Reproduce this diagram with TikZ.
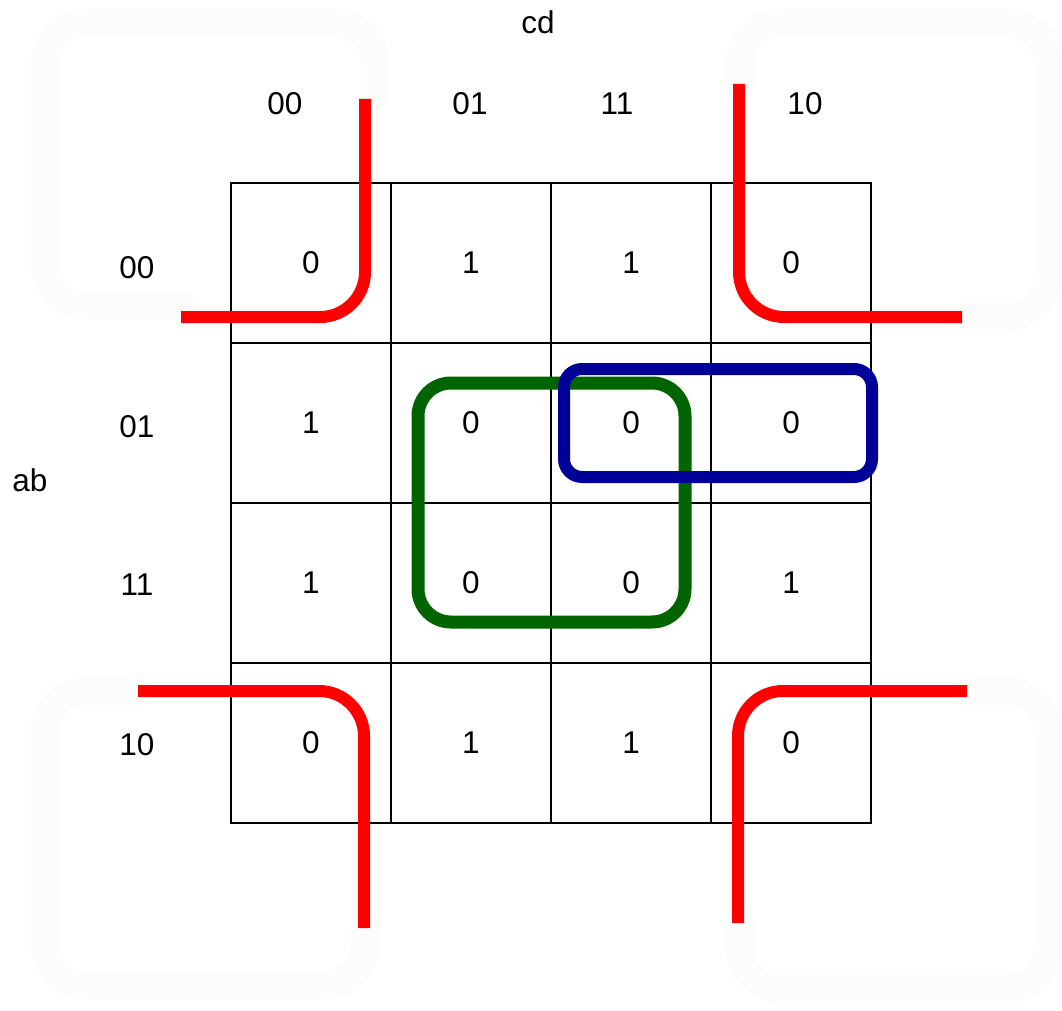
\documentclass[tikz,border=0pt]{standalone}
\usepackage{fontspec}
\setmainfont{Liberation Sans}
\begin{document}
\begin{tikzpicture}[x=1pt,y=-1pt,
  lbl/.style={font=\fontsize{31.5}{36}\selectfont, inner sep=0pt},
  cell/.style={draw=black, line width=2pt, minimum size=160pt, inner sep=0pt, font=\fontsize{31.5}{36}\selectfont},
  redloop/.style={draw={rgb,255:red,255;green,0;blue,0}, line width=12pt, rounded corners=45pt},
  faint/.style={draw=black!1, line width=28pt, rounded corners=40pt, line cap=round},
  greenbox/.style={draw={rgb,255:red,0;green,100;blue,0}, line width=13pt, rounded corners=33pt},
  bluebox/.style={draw={rgb,255:red,0;green,0;blue,153}, line width=12pt, rounded corners=18pt}
]
\useasboundingbox[fill=white] (0,0) rectangle (1062,1011);

% faint erased strokes
\draw[faint] (375,95) -- (375,23) -- (45,23) -- (45,305) -- (180,305);
\draw[faint] (740,83) -- (740,23) -- (1048,23) -- (1048,317) -- (962,317);
\draw[faint] (138,691) -- (45,691) -- (45,985) -- (365,985) -- (365,928);
\draw[faint] (967,691) -- (1048,691) -- (1048,988) -- (740,988) -- (740,923);

% labels
\node[lbl] (cd) at (538,22) {cd};
\node[lbl] (ab) at (30,480) {ab};
\node[lbl] (c00) at (285,104) {00};
\node[lbl] (c01) at (470,104) {01};
\node[lbl] (c11) at (617,104) {11};
\node[lbl] (c10) at (805,104) {10};
\node[lbl] (r00) at (137,268) {00};
\node[lbl] (r01) at (137,427) {01};
\node[lbl] (r11) at (137,585) {11};
\node[lbl] (r10) at (137,745) {10};

% cells
\foreach \v [count=\j] in {0,1,1,0}
  \node[cell] (a1\j) at ({231+160*(\j-0.5)},263) {\v};
\foreach \v [count=\j] in {1,0,0,0}
  \node[cell] (a2\j) at ({231+160*(\j-0.5)},423) {\v};
\foreach \v [count=\j] in {1,0,0,1}
  \node[cell] (a3\j) at ({231+160*(\j-0.5)},583) {\v};
\foreach \v [count=\j] in {0,1,1,0}
  \node[cell] (a4\j) at ({231+160*(\j-0.5)},743) {\v};

% groups
\draw[greenbox] (418,383) rectangle (685,622);
\draw[bluebox] (564,369) rectangle (872,477);

% red wrap-around corners
\draw[redloop] (365,99) -- (365,317) -- (181,317);
\draw[redloop] (739,84) -- (739,317) -- (962,317);
\draw[redloop] (138,691) -- (364,691) -- (364,928);
\draw[redloop] (967,691) -- (738,691) -- (738,923);
\end{tikzpicture}
\end{document}
